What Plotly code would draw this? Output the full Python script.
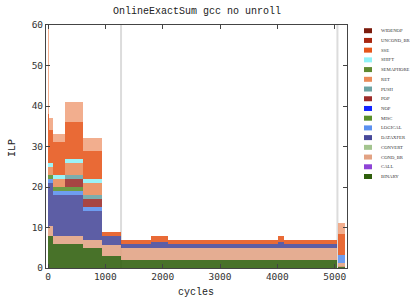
import plotly.graph_objects as go

# ---- data ----
seg_start = [0, 15, 90, 300, 610, 940, 1280, 1790, 2100, 4020, 4120, 5060]
seg_end   = [15, 90, 300, 610, 940, 1280, 1790, 2100, 4020, 4120, 5040, 5185]

# stacking order bottom -> top
BINARY    = [8, 8, 6, 6, 5, 3.0, 2, 2, 2, 2, 2, 0.3]
CALL      = [0, 0, 0, 0, 0, 0, 0, 0, 0, 0, 0, 0]
COND_BR   = [2, 2.3, 2, 2, 2, 2.7, 3, 3, 3, 3, 3, 1.0]
CONVERT   = [0, 0, 0, 0, 0, 0, 0, 0, 0, 0, 0, 0]
DATAXFER  = [11, 10.7, 10, 10, 7, 2.2, 1, 1.5, 1, 1.5, 1, 0]
LOGICAL   = [1, 1, 1, 1, 1, 0, 0, 0, 0, 0, 0, 2.0]
MISC      = [1, 1, 1, 1, 0, 0, 0, 0, 0, 0, 0, 0]
NOP       = [0, 0, 0, 0, 0, 0, 0, 0, 0, 0, 0, 0]
POP       = [0, 0, 0, 2, 2, 0, 0, 0, 0, 0, 0, 0]
PUSH      = [0, 0, 0, 1, 1, 0, 0, 0, 0, 0, 0, 0]
RET       = [2, 2, 2, 3, 3, 0, 0, 0, 0, 0, 0, 0]
SEMAPHORE = [0, 0, 0, 0, 0, 0, 0, 0, 0, 0, 0, 0]
SHIFT     = [1, 1, 1, 1, 1, 0, 0, 0, 0, 0, 0, 0]
SSE       = [12, 8, 8, 9, 7, 1.1, 1, 1.5, 1, 1.5, 1, 5.0]
UNCOND_BR = [0, 0, 0, 0, 0, 0, 0, 0, 0, 0, 0, 0]
WIDENOP   = [0, 0, 0, 0, 0, 0, 0, 0, 0, 0, 0, 0]
SSE_PEAK  = [21, 3, 2, 5, 3, 0, 0, 0, 0, 0, 0, 2.7]   # spiky variable top

phase_lines = [1274, 5048]

legend_order = ["WIDENOP", "UNCOND_BR", "SSE", "SHIFT", "SEMAPHORE", "RET", "PUSH", "POP",
                "NOP", "MISC", "LOGICAL", "DATAXFER", "CONVERT", "COND_BR", "CALL", "BINARY"]
colors = {
    "WIDENOP": "#7b1b0c", "UNCOND_BR": "#a8260f", "SSE": "#e6561b", "SHIFT": "#8ff2f7",
    "SEMAPHORE": "#5f8a30", "RET": "#ea8a58", "PUSH": "#6ba3a3", "POP": "#9c2c2a",
    "NOP": "#1224ff", "MISC": "#5a8f2c", "LOGICAL": "#5b90ef", "DATAXFER": "#474899",
    "CONVERT": "#a3c48f", "COND_BR": "#e2a283", "CALL": "#8e44d6", "BINARY": "#2f5f0c",
}
series = {
    "BINARY": BINARY, "CALL": CALL, "COND_BR": COND_BR, "CONVERT": CONVERT,
    "DATAXFER": DATAXFER, "LOGICAL": LOGICAL, "MISC": MISC, "NOP": NOP, "POP": POP,
    "PUSH": PUSH, "RET": RET, "SEMAPHORE": SEMAPHORE, "SHIFT": SHIFT, "SSE": SSE,
    "UNCOND_BR": UNCOND_BR, "WIDENOP": WIDENOP,
}

mids = [(a + b) / 2 for a, b in zip(seg_start, seg_end)]
widths = [b - a for a, b in zip(seg_start, seg_end)]

fig = go.Figure()
for name in reversed(legend_order):
    fig.add_trace(go.Bar(x=mids, y=series[name], width=widths, name=name,
                         marker=dict(color=colors[name], line=dict(width=0)),
                         opacity=0.88, showlegend=False))
fig.add_trace(go.Bar(x=mids, y=SSE_PEAK, width=widths, name="SSE",
                     marker=dict(color="#f09a72", line=dict(width=0)),
                     opacity=0.8, showlegend=False))

# plot area in pixels
L, R, T, B = 46, 347, 25, 268
W, H = 410, 298

def px(x):
    return (x - L) / (R - L)

def py(y):
    return 1 - (y - T) / (B - T)

shapes = []
for c in phase_lines:
    shapes.append(dict(type="line", xref="x", yref="paper", x0=c, x1=c, y0=0, y1=1,
                       line=dict(color="#dcdcdc", width=2), layer="below"))

annotations = []
for i, name in enumerate(legend_order):
    yc = 30.7 + i * 9.72
    shapes.append(dict(type="rect", xref="paper", yref="paper",
                       x0=px(364), x1=px(372), y0=py(yc + 2.5), y1=py(yc - 2.5),
                       fillcolor=colors[name], line=dict(width=0)))
    annotations.append(dict(text=name, xref="paper", yref="paper", x=px(378.5), y=py(yc),
                            xanchor="left", yanchor="middle", showarrow=False,
                            font=dict(family="Liberation Serif", size=4.7, color="#333")))

annotations.append(dict(text="cycles", xref="paper", yref="paper", x=px(196), y=py(292),
                        xanchor="center", yanchor="middle", showarrow=False,
                        font=dict(family="Liberation Mono", size=10, color="#222")))
annotations.append(dict(text="ILP", xref="paper", yref="paper", x=px(12), y=py(148),
                        xanchor="center", yanchor="middle", showarrow=False, textangle=-90,
                        font=dict(family="Liberation Mono", size=10, color="#222")))
annotations.append(dict(text="OnlineExactSum gcc no unroll", xref="paper", yref="paper",
                        x=px(197), y=py(12), xanchor="center", yanchor="middle",
                        showarrow=False,
                        font=dict(family="Liberation Mono", size=10, color="#222")))

axis_common = dict(showline=True, linecolor="#444", linewidth=1, mirror="ticks",
                   ticks="inside", ticklen=4, tickcolor="#444", showgrid=False,
                   zeroline=False,
                   tickfont=dict(family="DejaVu Sans Mono", size=9.5, color="#333"))

fig.update_layout(
    width=W, height=H, barmode="stack",
    margin=dict(l=L, r=W - R, t=T, b=H - B, pad=0),
    paper_bgcolor="white", plot_bgcolor="white",
    xaxis=dict(range=[-35, 5215], tickvals=[0, 1000, 2000, 3000, 4000, 5000], **axis_common),
    yaxis=dict(range=[0, 60], tickvals=[0, 10, 20, 30, 40, 50, 60], **axis_common),
    shapes=shapes, annotations=annotations, showlegend=False,
)

fig.write_html("out.html", config={"displayModeBar": False},
               post_script="document.body.style.margin='0';document.body.style.overflow='hidden';")
